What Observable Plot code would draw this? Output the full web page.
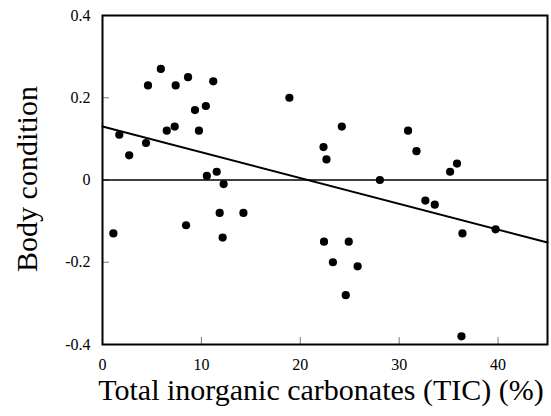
<!DOCTYPE html>
<html><head><meta charset="utf-8">
<script src="https://cdn.jsdelivr.net/npm/d3@7"></script>
<script src="https://cdn.jsdelivr.net/npm/@observablehq/plot@0.6"></script>
<style>html,body{margin:0;padding:0;background:#fff} svg text{font-family:"Liberation Serif","Times New Roman",serif !important}</style>
</head><body><div id="chart"></div>
<script>
const tic = [1.1, 1.7, 2.7, 4.4, 4.6, 5.9, 6.5, 7.3, 7.4, 8.45, 8.65, 9.35, 9.75, 10.45, 10.55, 11.2, 11.55, 11.85, 12.15, 12.25, 14.25, 18.9, 22.35, 22.4, 22.65, 23.3, 24.2, 24.6, 24.9, 25.8, 28.05, 30.9, 31.75, 32.65, 33.6, 35.15, 35.85, 36.3, 36.4, 39.75];
const bodyCondition = [-0.13, 0.11, 0.06, 0.09, 0.23, 0.27, 0.12, 0.13, 0.23, -0.11, 0.25, 0.17, 0.12, 0.18, 0.01, 0.24, 0.02, -0.08, -0.14, -0.01, -0.08, 0.20, 0.08, -0.15, 0.05, -0.20, 0.13, -0.28, -0.15, -0.21, 0.0, 0.12, 0.07, -0.05, -0.06, 0.02, 0.04, -0.38, -0.13, -0.12];
const xTicks = [0, 10, 20, 30, 40];
const yTicks = [-0.4, -0.2, 0, 0.2, 0.4];
const xDomain = [0, 45];
const yDomain = [-0.4, 0.4];
const fitIntercept = 0.13;
const fitSlope = -0.00627;
const xTitle = "Total inorganic carbonates (TIC) (%)";
const yTitle = "Body condition";

const points = tic.map((x, i) => ({x, y: bodyCondition[i]}));
const fit = xDomain.map(x => ({x, y: fitIntercept + fitSlope * x}));
const font = "Liberation Serif";

const W = 551, H = 416, mL = 102, mR = 4, mT = 15, mB = 72, tickLen = 7;
const plotW = W - mL - mR, plotH = H - mT - mB;

const chart = Plot.plot({
  width: W, height: H,
  marginLeft: mL, marginRight: mR, marginTop: mT, marginBottom: mB,
  x: {domain: xDomain},
  y: {domain: yDomain},
  style: {fontFamily: font, background: "white", color: "black"},
  marks: [
    Plot.axisX(xTicks, {tickSize: 0, tickPadding: 14, fontSize: 16, fontFamily: font, label: null, tickFormat: d => String(d)}),
    Plot.axisY(yTicks, {tickSize: 0, tickPadding: 12, fontSize: 16, fontFamily: font, label: null, tickFormat: d => String(d)}),
    Plot.tickX(xTicks, {x: d => d, insetTop: plotH - tickLen, stroke: "#777", strokeWidth: 1}),
    Plot.tickY(yTicks, {y: d => d, insetRight: plotW - tickLen, stroke: "#777", strokeWidth: 1}),
    Plot.ruleY([0], {stroke: "black", strokeWidth: 1.7}),
    Plot.line(fit, {x: "x", y: "y", stroke: "black", strokeWidth: 2}),
    Plot.dot(points, {x: "x", y: "y", r: 4.1, fill: "black", stroke: "none"}),
    Plot.frame({stroke: "black", strokeWidth: 2}),
    Plot.text([xTitle], {frameAnchor: "bottom", textAnchor: "middle", dy: 55, dx: -4, fontSize: 30, fontFamily: font, fill: "black"}),
    Plot.text([yTitle], {frameAnchor: "left", textAnchor: "middle", rotate: -90, dx: -75, dy: -1, fontSize: 30, fontFamily: font, fill: "black"})
  ]
});
document.getElementById("chart").appendChild(chart);
</script>
</body></html>
